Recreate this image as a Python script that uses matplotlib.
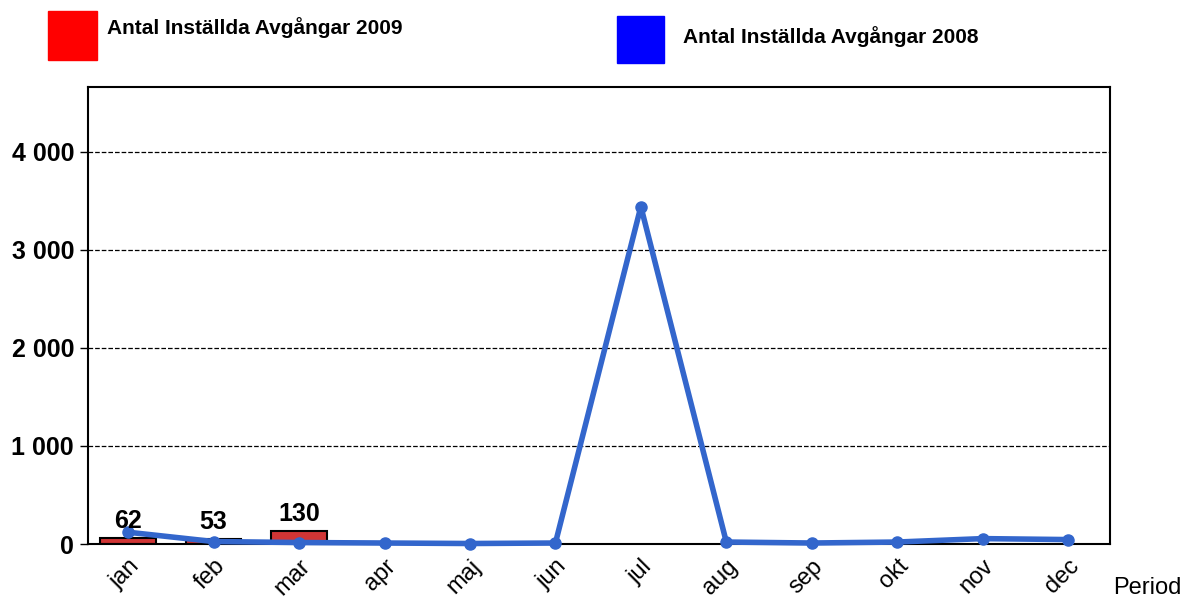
import numpy as np
import matplotlib.pyplot as plt
from matplotlib.patches import Rectangle
from matplotlib.ticker import FuncFormatter

plt.rcParams['font.family'] = ['Liberation Sans', 'DejaVu Sans']

# data
manader = ['jan', 'feb', 'mar', 'apr', 'maj', 'jun', 'jul', 'aug', 'sep', 'okt', 'nov', 'dec']
installda_2009 = [62, 53, 130]
installda_2008 = [120, 25, 15, 10, 5, 10, 3440, 20, 10, 20, 55, 45]

fig = plt.figure(figsize=(11.85, 5.99), dpi=100)
ax = fig.add_axes([88/1185, 1-544/599, (1110-88)/1185, (544-87)/599])

x = np.arange(len(manader))
ax.bar(x[:len(installda_2009)], installda_2009, width=0.65, color='#d03535',
       edgecolor='black', linewidth=1.5, zorder=2)
for xi, v in zip(x, installda_2009):
    ax.text(xi, v + 50, str(v), ha='center', va='bottom', fontsize=18,
            fontweight='bold', zorder=4)

ax.plot(x, installda_2008, color='#3366cc', linewidth=4, marker='o',
        markersize=8, zorder=3, clip_on=False)

ax.set_xlim(-0.47, 11.49)
ax.set_ylim(0, 4660)
ax.set_yticks([0, 1000, 2000, 3000, 4000])
ax.yaxis.set_major_formatter(FuncFormatter(lambda v, p: f'{int(v):,}'.replace(',', ' ')))
ax.grid(axis='y', color='black', linestyle='--', linewidth=0.9, zorder=0)
ax.set_axisbelow(True)
ax.set_xticks(x)
ax.set_xticklabels(manader, rotation=45, fontsize=17, ha='right', rotation_mode='anchor')
ax.tick_params(axis='x', length=0, pad=8)
ax.tick_params(axis='y', length=6, labelsize=18, width=1, pad=4)
for lab in ax.get_yticklabels():
    lab.set_fontweight('bold')
for s in ax.spines.values():
    s.set_linewidth(1.5)

fig.text(1113/1185, 1-588/599, 'Period', fontsize=17, va='center', ha='left')

# legend
fig.patches.append(Rectangle((48/1185, 1-60/599), 49/1185, 49/599,
                             transform=fig.transFigure, color='#ff0000'))
fig.text(107/1185, 1-28/599, 'Antal Inställda Avgångar 2009', fontsize=15,
         fontweight='bold', va='center')
fig.patches.append(Rectangle((617/1185, 1-63/599), 47/1185, 47/599,
                             transform=fig.transFigure, color='#0000ff'))
fig.text(683/1185, 1-37/599, 'Antal Inställda Avgångar 2008', fontsize=15,
         fontweight='bold', va='center')

fig.savefig('out.png', dpi=100)
